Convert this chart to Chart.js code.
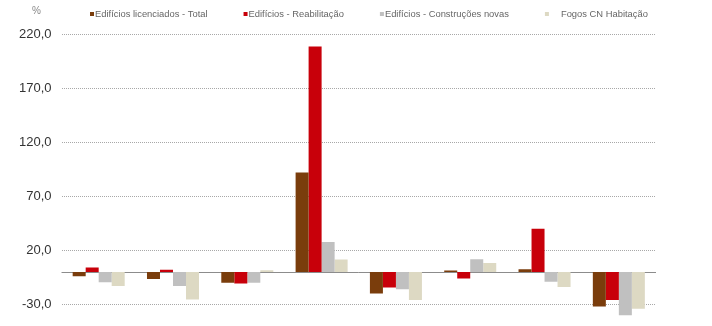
<!DOCTYPE html>
<html>
<head>
<meta charset="utf-8">
<script src="https://cdn.jsdelivr.net/npm/chart.js@4.4.0/dist/chart.umd.min.js"></script>
<style>
	html, body { margin: 0; padding: 0; background: #fff; overflow: hidden; }
	#wrap { width: 712px; height: 326px; }
</style>
</head>
<body>
<div id="wrap"><canvas id="mycanvas"></canvas></div>
<script>
var categories = ['1', '2', '3', '4', '5', '6', '7', '8'];
var total = [-4, -6.5, -10, 92, -20, 1.3, 2.5, -32];
var reabilitacao = [4, 2, -10.7, 208.5, -14.4, -6, 40, -26];
var construcoes = [-9.5, -13, -10, 27.7, -16, 11.7, -9, -40];
var fogos = [-13, -25.5, 1.5, 11.4, -26, 8.3, -14, -34];
var yTicks = [-30, 20, 70, 120, 170, 220];

var FONT = '"Liberation Sans", Arial, sans-serif';

// legend row, "%" label and the solid zero line
var extras = {
	id: 'extras',
	beforeDatasetsDraw: function (chart) {
		var ctx = chart.ctx;
		var y0 = chart.scales.y.getPixelForValue(0);
		var area = chart.chartArea;
		ctx.save();
		ctx.strokeStyle = '#8c8c8c';
		ctx.lineWidth = 1;
		ctx.beginPath();
		ctx.moveTo(area.left, Math.round(y0) + 0.5);
		ctx.lineTo(area.right, Math.round(y0) + 0.5);
		ctx.stroke();
		ctx.restore();
	},
	afterDraw: function (chart) {
		var ctx = chart.ctx;
		ctx.save();
		ctx.fillStyle = '#888';
		ctx.font = '10px ' + FONT;
		ctx.textAlign = 'center';
		ctx.textBaseline = 'middle';
		ctx.fillText('%', chart.chartArea.left - 25, 11);

		ctx.font = '9.4px ' + FONT;
		ctx.textAlign = 'left';
		var x = 90;
		chart.data.datasets.forEach(function (ds, i) {
			ctx.fillStyle = ds.backgroundColor;
			ctx.fillRect(x, 12, 4, 4);
			var tx = x + (i === 3 ? 16 : 5);
			ctx.fillStyle = '#666';
			ctx.fillText(ds.label, tx, 14);
			x = tx + ctx.measureText(ds.label).width + 36;
		});
		ctx.restore();
	}
};

var chartdata = {
	labels: categories,
	datasets: [
		{ label: 'Edifícios licenciados - Total', backgroundColor: '#7a3d0c', data: total },
		{ label: 'Edifícios - Reabilitação', backgroundColor: '#c8000a', data: reabilitacao },
		{ label: 'Edifícios - Construções novas', backgroundColor: '#c0c0c0', data: construcoes },
		{ label: 'Fogos CN Habitação', backgroundColor: '#ddd9c3', data: fogos }
	]
};

var lineGraph = new Chart(document.getElementById('mycanvas'), {
	type: 'bar',
	data: chartdata,
	plugins: [extras],
	options: {
		responsive: true,
		maintainAspectRatio: false,
		animation: false,
		categoryPercentage: 0.7,
		barPercentage: 1,
		layout: { padding: { left: 9, right: 56, top: 34, bottom: 0 } },
		plugins: {
			legend: { display: false },
			tooltip: { enabled: false }
		},
		scales: {
			x: { display: false },
			y: {
				min: -50,
				max: 220,
				afterBuildTicks: function (scale) {
					scale.ticks = yTicks.map(function (v) { return { value: v }; });
				},
				afterFit: function (scale) {
					scale.paddingTop = 0;
					scale.paddingBottom = 0;
				},
				border: { display: false, dash: [1, 1] },
				grid: {
					color: '#a8a8a8',
					drawTicks: false
				},
				ticks: {
					padding: 10,
					color: '#333',
					font: { size: 13, family: FONT },
					callback: function (v) { return v.toFixed(1).replace('.', ','); }
				}
			}
		}
	}
});
</script>
</body>
</html>
